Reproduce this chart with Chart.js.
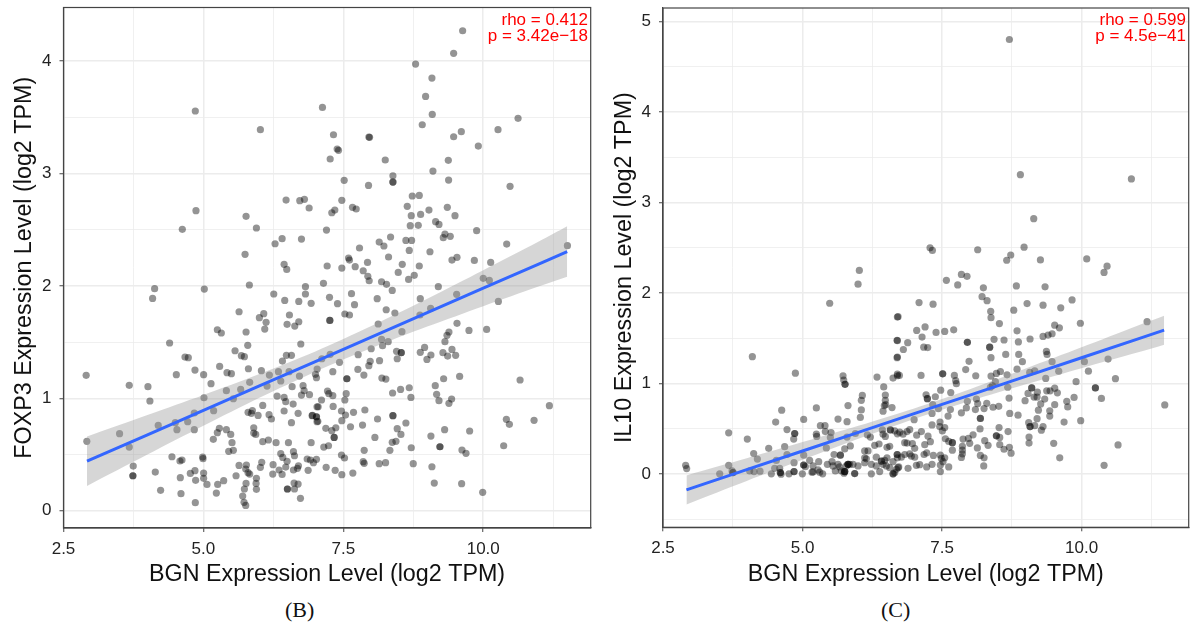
<!DOCTYPE html>
<html>
<head>
<meta charset="utf-8">
<title>BGN correlation</title>
<script src="https://cdn.jsdelivr.net/npm/chart.js@4"></script>
<style>
  html, body { margin: 0; padding: 0; background: #fff; }
  body { position: relative; width: 1195px; height: 626px; overflow: hidden; }
  canvas { position: absolute; top: 0; }
  #graph01 { left: 0; }
  #graph02 { left: 600px; }
  .stat { position: absolute; top: 12px; color: #f00; text-align: right; font: 17px/16.2px "Liberation Sans", sans-serif; }
  .cap { position: absolute; top: 597px; font: 22px "Liberation Serif", serif; color: #111; }
</style>
</head>
<body>
<canvas id="graph01" width="600" height="590"></canvas>
<canvas id="graph02" width="595" height="590"></canvas>
<div class="stat" style="right:607px">rho = 0.412<br>p = 3.42e−18</div>
<div class="stat" style="right:9px">rho = 0.599<br>p = 4.5e−41</div>
<div class="cap" style="left:285px">(B)</div>
<div class="cap" style="left:881px">(C)</div>
<script>
// BGN (x) vs FOXP3 (y)
const foxp3Points = [
  [4.855,3.556],[6.018,3.39],[6.477,2.764],[6.722,2.758],[6.805,2.77],[6.889,2.693],[4.867,2.669],[5.762,2.619],
  [4.623,2.503],[5.947,2.515],[6.406,2.42],[6.752,2.417],[6.28,2.375],[5.744,2.281],[6.442,2.192],[6.489,2.147],
  [5.821,2.008],[6.823,1.993],[4.128,1.975],[5.016,1.972],[4.092,1.889],[6.257,1.928],[6.823,1.928],[6.453,1.871],
  [6.704,1.862],[6.925,1.845],[5.637,1.77],[6.078,1.753],[6.537,1.741],[6.0,1.717],[6.12,1.676],[6.495,1.658],
  [6.704,1.681],[6.632,1.643],[6.096,1.616],[5.249,1.61],[5.32,1.581],[5.762,1.59],[4.396,1.492],[5.792,1.471],
  [6.74,1.483],[5.565,1.423],[5.678,1.379],[5.732,1.37],[4.671,1.367],[4.73,1.361],[6.483,1.382],[6.573,1.382],
  [6.412,1.331],[5.29,1.284],[5.804,1.263],[4.849,1.251],[6.036,1.246],[5.422,1.228],[5.5,1.219],[4.516,1.21],
  [5.004,1.21],[2.905,1.204],[6.179,1.207],[6.34,1.237],[6.531,1.237],[6.716,1.198],[5.827,1.142],[6.382,1.154],
  [5.136,1.13],[6.137,1.109],[3.675,1.115],[4.009,1.103],[6.585,1.103],[6.781,1.112],[5.41,1.068],[5.666,1.079],
  [6.752,1.029],[6.8,1.068],[6.895,1.032],[6.316,1.02],[6.442,1.008],[5.01,1.005],[5.535,0.996],[4.044,0.976],
  [6.471,0.97],[6.06,0.937],[6.603,0.949],[5.183,0.89],[7.03,0.925],[5.875,0.89],[5.798,0.875],[5.857,0.866],
  [4.837,0.869],[5.977,0.848],[6.692,0.866],[6.173,0.854],[6.442,0.887],[6.215,0.816],[6.942,0.845],[7.02,0.836],
  [7.03,0.792],[4.498,0.783],[4.719,0.792],[4.193,0.759],[6.573,0.783],[5.899,0.738],[4.837,0.721],[4.527,0.721],
  [5.285,0.733],[5.41,0.721],[5.249,0.694],[5.488,0.679],[3.502,0.685],[5.899,0.691],[5.935,0.679],[5.177,0.635],
  [6.161,0.629],[2.917,0.617],[6.06,0.614],[6.298,0.605],[6.519,0.605],[5.511,0.605],[6.925,0.605],[3.675,0.566],
  [5.452,0.528],[5.535,0.537],[6.609,0.525],[6.382,0.507],[4.438,0.48],[6.418,0.474],[6.627,0.489],[4.987,0.477],
  [6.854,0.46],[6.912,0.451],[7.02,0.457],[4.581,0.442],[4.617,0.451],[4.993,0.463],[6.495,0.439],[6.966,0.427],
  [6.042,0.43],[6.245,0.409],[3.746,0.397],[5.637,0.403],[5.768,0.406],[6.698,0.4],[6.471,0.388],[6.018,0.386],
  [6.352,0.362],[6.609,0.362],[6.68,0.377],[6.871,0.359],[5.756,0.371],[4.849,0.356],[4.14,0.344],[4.766,0.332],
  [5.004,0.335],[5.798,0.338],[5.827,0.326],[5.583,0.311],[6.239,0.326],[6.406,0.323],[3.74,0.311],[3.74,0.311],
  [4.587,0.294],[5.004,0.288],[5.947,0.288],[5.941,0.243],[4.861,0.27],[5.362,0.267],[5.064,0.234],[5.255,0.234],
  [5.762,0.243],[6.62,0.246],[6.692,0.237],[5.732,0.193],[5.947,0.19],[6.501,0.193],[6.501,0.193],[6.627,0.193],
  [4.235,0.181],[4.599,0.151],[5.231,0.157],[5.702,0.13],[6.734,0.11],[4.855,0.071],[5.726,0.074],[5.756,0.047],
  [9.632,4.27],[9.471,4.069],[8.791,3.974],[9.083,3.849],[8.97,3.686],[9.089,3.526],[7.127,3.588],[10.622,3.491],
  [8.91,3.434],[10.264,3.39],[9.608,3.372],[9.471,3.327],[7.324,3.345],[7.957,3.324],[7.969,3.322],[9.912,3.244],
  [7.39,3.218],[7.414,3.206],[7.265,3.129],[8.249,3.12],[9.376,3.117],[9.101,3.022],[8.386,2.98],[8.386,2.924],
  [8.386,2.924],[7.515,2.939],[9.381,2.942],[7.95,2.894],[10.479,2.886],[8.732,2.8],[8.857,2.805],[7.473,2.761],
  [8.642,2.708],[9.358,2.699],[7.664,2.699],[7.73,2.684],[7.348,2.675],[7.294,2.651],[9.03,2.675],[8.714,2.625],
  [8.881,2.636],[9.495,2.625],[9.149,2.571],[9.209,2.547],[8.696,2.536],[8.839,2.539],[7.199,2.497],[9.882,2.491],
  [9.316,2.461],[9.411,2.441],[9.286,2.429],[8.344,2.435],[8.618,2.405],[8.72,2.405],[8.141,2.39],[8.225,2.355],
  [10.419,2.372],[11.504,2.358],[7.789,2.337],[8.678,2.316],[9.048,2.304],[8.308,2.257],[7.593,2.248],[7.61,2.23],
  [9.531,2.254],[9.441,2.23],[9.841,2.227],[10.133,2.209],[7.932,2.209],[7.211,2.177],[7.473,2.159],[7.712,2.171],
  [8.553,2.192],[8.857,2.177],[7.855,2.135],[8.481,2.12],[8.767,2.094],[7.938,2.085],[7.962,2.046],[8.666,2.058],
  [10.0,2.067],[10.109,2.049],[8.183,2.037],[8.272,2.014],[7.145,2.023],[9.197,1.993],[8.374,1.96],[7.646,1.931],
  [7.253,1.898],[9.525,1.925],[8.875,1.886],[8.105,1.886],[10.27,1.862],[7.396,1.842],[7.7,1.833],[8.266,1.788],
  [9.06,1.8],[8.421,1.759],[7.527,1.75],[7.61,1.741],[8.869,1.741],[7.259,1.693],[7.259,1.693],[8.123,1.661],
  [9.531,1.667],[9.745,1.604],[10.061,1.613],[8.547,1.593],[9.387,1.59],[9.352,1.56],[8.183,1.524],[8.302,1.504],
  [8.201,1.468],[9.316,1.504],[7.998,1.441],[8.952,1.453],[9.441,1.435],[8.451,1.418],[8.535,1.406],[8.535,1.406],
  [8.875,1.409],[9.065,1.385],[9.28,1.406],[9.364,1.376],[9.507,1.382],[7.765,1.388],[7.265,1.391],[8.463,1.352],
  [8.994,1.346],[7.116,1.352],[8.147,1.335],[7.98,1.329],[7.432,1.32],[7.956,1.29],[7.032,1.26],[7.76,1.257],
  [7.312,1.237],[7.867,1.207],[7.002,1.213],[7.02,1.183],[8.189,1.18],[8.26,1.171],[7.563,1.174],[7.563,1.174],
  [9.292,1.174],[9.578,1.195],[10.658,1.163],[9.143,1.112],[8.523,1.079],[8.678,1.094],[8.38,1.047],[7.217,1.065],
  [7.551,1.041],[7.241,1.041],[7.312,1.023],[9.167,1.035],[8.708,1.008],[7.527,0.985],[7.11,0.985],[9.435,0.993],
  [9.209,0.979],[9.387,0.955],[7.05,0.925],[7.318,0.928],[7.467,0.887],[11.182,0.934],[7.885,0.896],[7.682,0.875],
  [7.539,0.851],[6.949,0.848],[7.02,0.836],[8.386,0.845],[8.386,0.845],[8.111,0.816],[7.473,0.801],[7.044,0.795],
  [10.413,0.813],[10.908,0.804],[10.467,0.768],[8.618,0.78],[7.628,0.747],[7.843,0.762],[7.187,0.733],[7.366,0.738],
  [7.294,0.712],[8.463,0.73],[9.31,0.721],[9.757,0.709],[8.529,0.679],[7.336,0.652],[7.336,0.652],[9.065,0.664],
  [8.064,0.652],[8.374,0.608],[8.44,0.617],[7.235,0.578],[7.151,0.566],[9.226,0.569],[9.226,0.569],[8.714,0.56],
  [10.365,0.578],[7.873,0.537],[8.332,0.537],[9.62,0.54],[9.692,0.51],[7.467,0.495],[7.521,0.469],[7.855,0.436],
  [7.873,0.421],[8.141,0.418],[8.255,0.427],[8.749,0.418],[7.193,0.386],[7.354,0.359],[9.083,0.391],[7.67,0.335],
  [7.473,0.32],[9.125,0.246],[9.614,0.24],[9.99,0.163],
];
const foxp3FitX = [2.92, 4, 5, 6, 7, 8, 9, 10, 11, 11.5];
const foxp3Fit = [0.44, 0.675, 0.892, 1.11, 1.327, 1.545, 1.762, 1.98, 2.197, 2.306];
const foxp3Upper = [0.66, 0.851, 1.029, 1.216, 1.417, 1.643, 1.886, 2.14, 2.397, 2.531];
const foxp3Lower = [0.22, 0.499, 0.755, 1.004, 1.237, 1.447, 1.638, 1.82, 1.997, 2.081];

// BGN (x) vs IL10 (y)
const il10Points = [
  [6.018,2.251],[5.995,2.099],[5.487,1.888],[6.7,1.736],[8.707,4.802],[8.904,3.309],[10.893,3.262],[9.143,2.823],
  [8.97,2.508],[7.285,2.501],[7.327,2.472],[8.139,2.479],[8.731,2.421],[8.659,2.363],[9.263,2.367],[10.093,2.378],
  [10.457,2.298],[10.403,2.229],[7.847,2.207],[7.948,2.186],[7.578,2.142],[7.781,2.091],[8.241,2.059],[8.832,2.08],
  [9.346,2.07],[8.217,1.961],[8.307,1.917],[9.83,1.925],[9.024,1.885],[7.088,1.896],[7.339,1.878],[9.31,1.867],
  [9.627,1.838],[8.785,1.812],[8.372,1.798],[8.378,1.729],[6.712,1.74],[8.528,1.664],[9.519,1.646],[9.979,1.667],
  [11.174,1.685],[9.603,1.617],[7.196,1.627],[7.046,1.588],[7.393,1.566],[7.548,1.577],[7.709,1.595],[8.844,1.584],
  [7.142,1.515],[6.7,1.475],[6.885,1.453],[8.432,1.49],[8.611,1.482],[9.077,1.493],[8.868,1.461],[9.31,1.522],
  [9.4,1.537],[9.472,1.551],[7.954,1.457],[7.954,1.457],[6.807,1.377],[7.172,1.403],[7.243,1.399],[8.354,1.403],
  [8.354,1.403],[6.7,1.294],[8.641,1.323],[8.874,1.323],[8.378,1.287],[9.37,1.356],[9.382,1.323],[10.475,1.272],
  [9.472,1.243],[10.051,1.243],[7.984,1.247],[8.94,1.243],[7.924,1.156],[8.844,1.16],[9.591,1.138],[10.123,1.138],
  [8.546,1.134],[8.474,1.113],[8.378,1.084],[7.512,1.109],[7.512,1.109],[7.721,1.091],[8.104,1.087],[8.665,1.098],
  [9.071,1.124],[9.161,1.142],[7.124,1.091],[6.736,1.091],[6.7,1.105],[9.358,1.058],[10.607,1.055],[7.745,1.033],
  [7.757,1.0],[9.902,1.022],[8.456,1.022],[8.366,0.96],[8.402,0.979],[8.677,0.96],[10.248,0.953],[10.248,0.953],
  [9.107,0.953],[9.107,0.953],[9.376,0.921],[9.436,0.921],[9.519,0.95],[9.567,0.899],[7.476,0.928],[7.656,0.902],
  [9.041,0.892],[9.209,0.906],[9.149,0.852],[9.203,0.852],[7.214,0.877],[7.38,0.855],[7.237,0.834],[7.237,0.834],
  [8.701,0.841],[8.116,0.83],[10.356,0.837],[9.866,0.848],[8.988,0.812],[9.34,0.83],[9.735,0.805],[7.954,0.805],
  [8.139,0.779],[8.301,0.783],[9.268,0.776],[9.519,0.768],[9.752,0.743],[11.491,0.765],[7.333,0.768],[7.435,0.725],
  [7.65,0.714],[7.936,0.732],[8.098,0.714],[8.253,0.725],[8.414,0.739],[8.516,0.75],[9.227,0.707],[9.43,0.7],
  [7.847,0.678],[7.321,0.671],[7.608,0.642],[8.713,0.671],[8.862,0.652],[9.43,0.642],[8.187,0.616],[8.187,0.616],
  [9.203,0.613],[7.0,0.602],[9.985,0.591],[9.687,0.576],[9.053,0.569],[7.464,0.576],[7.321,0.544],[7.458,0.526],
  [9.161,0.536],[9.077,0.526],[9.077,0.526],[9.31,0.526],[7.548,0.515],[9.28,0.486],[8.522,0.515],[8.181,0.5],
  [6.921,0.493],[6.873,0.471],[7.13,0.471],[6.742,0.464],[6.801,0.442],[8.683,0.471],[7.506,0.478],[7.046,0.431],
  [7.249,0.42],[8.056,0.435],[8.474,0.424],[8.474,0.424],[8.534,0.406],[7.56,0.391],[7.877,0.388],[7.972,0.395],
  [9.059,0.41],[7.291,0.359],[8.265,0.37],[6.831,0.348],[6.873,0.344],[7.62,0.362],[7.685,0.348],[7.685,0.348],
  [7.996,0.341],[9.059,0.344],[9.501,0.341],[10.654,0.323],[6.969,0.337],[7.19,0.326],[8.534,0.326],[8.325,0.319],
  [7.865,0.308],[8.133,0.29],[8.707,0.297],[7.01,0.286],[8.611,0.275],[7.685,0.265],[7.865,0.265],[7.225,0.236],
  [7.178,0.217],[8.737,0.232],[7.847,0.185],[7.865,0.225],[6.831,0.217],[6.921,0.225],[6.7,0.217],[7.345,0.207],
  [7.47,0.21],[7.01,0.188],[6.771,0.188],[6.951,0.199],[6.7,0.181],[8.187,0.207],[8.253,0.181],[9.609,0.181],
  [7.548,0.181],[7.488,0.174],[7.518,0.138],[7.321,0.109],[7.225,0.08],[7.04,0.098],[7.1,0.105],[6.891,0.065],
  [6.724,0.08],[7.62,0.08],[7.47,0.029],[8.247,0.091],[10.404,0.098],[7.47,0.101],[6.652,0.018],
  [6.694,1.479],[6.694,1.287],[4.101,1.298],[4.872,1.116],[5.726,1.087],[5.738,1.04],[5.762,0.993],[5.762,0.993],
  [6.335,1.073],[6.622,1.062],[6.7,1.087],[6.455,0.964],[6.072,0.87],[6.484,0.874],[6.054,0.816],[6.484,0.816],
  [6.49,0.768],[6.466,0.758],[4.627,0.707],[5.815,0.758],[6.054,0.71],[6.604,0.736],[5.248,0.732],[6.443,0.696],
  [6.036,0.627],[5.021,0.605],[4.519,0.576],[5.636,0.609],[5.798,0.58],[5.32,0.536],[5.403,0.536],[4.722,0.493],
  [5.409,0.471],[3.677,0.457],[5.511,0.46],[4.86,0.449],[4.86,0.449],[5.248,0.442],[5.254,0.417],[4.842,0.388],
  [4.011,0.388],[5.499,0.406],[5.947,0.449],[5.798,0.41],[6.162,0.435],[6.216,0.41],[6.431,0.489],[6.574,0.489],
  [6.574,0.489],[6.652,0.478],[6.443,0.442],[6.484,0.417],[6.7,0.446],[6.293,0.319],[6.371,0.333],[6.562,0.308],
  [6.514,0.297],[4.394,0.286],[4.68,0.304],[5.857,0.312],[5.756,0.279],[5.427,0.29],[4.125,0.228],[6.114,0.257],
  [6.174,0.257],[5.565,0.217],[5.678,0.21],[5.678,0.21],[4.722,0.217],[5.021,0.21],[5.128,0.152],[4.191,0.167],
  [4.531,0.152],[6.114,0.181],[6.144,0.17],[6.323,0.188],[6.413,0.145],[6.413,0.145],[6.473,0.152],[6.514,0.181],
  [6.694,0.217],[4.848,0.127],[5.29,0.138],[5.445,0.109],[5.529,0.138],[5.636,0.109],[2.906,0.098],[2.924,0.062],
  [3.677,0.098],[4.501,0.065],[4.591,0.065],[5.021,0.101],[5.021,0.101],[5.051,0.083],[5.815,0.109],[5.815,0.109],
  [5.815,0.109],[5.785,0.091],[5.845,0.109],[5.905,0.109],[5.995,0.091],[6.114,0.127],[6.233,0.109],[6.323,0.091],
  [6.622,0.138],[5.188,0.091],[5.278,0.047],[5.188,0.025],[5.547,0.091],[5.666,0.08],[4.053,0.036],[4.131,0.029],
  [4.238,0.033],[3.755,0.018],[3.755,0.018],[3.737,0.036],[3.516,0.004],[4.441,0.004],[4.603,0.018],[4.603,0.018],
  [4.615,0],[4.758,0.004],[4.848,0.029],[4.848,0.029],[4.997,0.004],[5.17,0.022],[5.308,0.022],[5.361,0.004],
  [5.588,0.036],[5.696,0.036],[5.756,0.029],[5.756,0.029],[5.756,0.029],[5.744,0.011],[5.935,0.007],[5.935,0.007],
  [6.233,0.004],[6.383,0.029],[6.622,0.004],[6.622,0.004],[6.682,0.054],[6.712,0.072],[6.562,0.072],[6.502,0.091],
  [6.443,0.109],
];
const il10FitX = [2.92, 4, 5, 6, 7, 8, 9, 10, 11, 11.48];
const il10Fit = [-0.174, 0.05, 0.256, 0.462, 0.668, 0.874, 1.08, 1.286, 1.492, 1.591];
const il10Upper = [-0.014, 0.175, 0.354, 0.534, 0.726, 0.939, 1.167, 1.401, 1.64, 1.751];
const il10Lower = [-0.334, -0.075, 0.158, 0.39, 0.61, 0.809, 0.993, 1.171, 1.344, 1.431];

const xTitle = "BGN Expression Level (log2 TPM)";
const fontName = '"Liberation Sans", sans-serif';
const axisColor = "#444";
const gridColor = "#ececec";

const frame = {
  id: "frame",
  afterDatasetsDraw(chart) {
    const a = chart.chartArea;
    chart.ctx.save();
    chart.ctx.strokeStyle = axisColor;
    chart.ctx.lineWidth = 1.2;
    chart.ctx.strokeRect(a.left, a.top, a.right - a.left, a.bottom - a.top);
    chart.ctx.restore();
  },
};

function toXY(xs, ys) {
  return xs.map((x, i) => ({ x: x, y: ys[i] }));
}

function axisGrid(isMajor) {
  return {
    color: gridColor,
    lineWidth: (c) => (isMajor(c.tick.value) ? 1.5 : 0.8),
    tickColor: (c) => (isMajor(c.tick.value) ? axisColor : "rgba(0,0,0,0)"),
    tickLength: 4,
    tickWidth: 1,
  };
}

function drawPanel(id, o) {
  const isMajorX = (v) => v % 2.5 === 0;
  const isMajorY = (v) => Number.isInteger(v);
  return new Chart(document.getElementById(id), {
    type: "scatter",
    data: {
      datasets: [
        {
          type: "line",
          data: toXY(o.fitX, o.fit),
          borderColor: "#3366ff",
          borderWidth: 3,
          pointRadius: 0,
        },
        {
          type: "line",
          data: toXY(o.fitX, o.upper),
          borderWidth: 0,
          pointRadius: 0,
          tension: 0.3,
        },
        {
          type: "line",
          data: toXY(o.fitX, o.lower),
          borderWidth: 0,
          pointRadius: 0,
          tension: 0.3,
          fill: "-1",
          backgroundColor: "rgba(153, 153, 153, 0.4)",
        },
        {
          data: o.points.map((p) => ({ x: p[0], y: p[1] })),
          backgroundColor: "rgba(0, 0, 0, 0.42)",
          borderWidth: 0,
          pointRadius: 3.6,
        },
      ],
    },
    options: {
      responsive: false,
      animation: false,
      layout: { padding: { top: o.top, right: o.right } },
      plugins: { legend: { display: false }, tooltip: { enabled: false } },
      scales: {
        x: {
          type: "linear",
          min: 2.5,
          max: 11.92,
          afterFit: (s) => {
            s.height = 590 - o.bottom;
            s.paddingLeft = 0;
            s.paddingRight = 0;
          },
          border: { color: axisColor, width: 1.2 },
          grid: axisGrid(isMajorX),
          ticks: {
            stepSize: 1.25,
            includeBounds: false,
            autoSkip: false,
            maxRotation: 0,
            padding: 7,
            color: "#222",
            font: { family: fontName, size: 17 },
            callback: (v) => (isMajorX(v) ? v.toFixed(1) : ""),
          },
          title: {
            display: true,
            text: xTitle,
            color: "#111",
            font: { family: fontName, size: 23.3 },
            padding: { top: 0, bottom: 1 },
          },
        },
        y: {
          type: "linear",
          min: o.yMin,
          max: o.yMax,
          afterFit: (s) => {
            s.width = o.left;
            s.paddingTop = 0;
            s.paddingBottom = 0;
          },
          border: { color: axisColor, width: 1.2 },
          grid: axisGrid(isMajorY),
          ticks: {
            stepSize: 0.5,
            includeBounds: false,
            autoSkip: false,
            maxTicksLimit: 20,
            padding: 8,
            color: "#222",
            font: { family: fontName, size: 17 },
            callback: (v) => (isMajorY(v) ? String(v) : ""),
          },
          title: {
            display: true,
            text: o.yTitle,
            color: "#111",
            font: { family: fontName, size: 23.3 },
            padding: { top: 11, bottom: 0 },
          },
        },
      },
    },
    plugins: [frame],
  });
}

drawPanel("graph01", {
  points: foxp3Points, fitX: foxp3FitX, fit: foxp3Fit, upper: foxp3Upper, lower: foxp3Lower,
  yTitle: "FOXP3 Expression Level (log2 TPM)",
  yMin: -0.154, yMax: 4.477, left: 63.5, top: 7.5, right: 9.3, bottom: 528,
});
drawPanel("graph02", {
  points: il10Points, fitX: il10FitX, fit: il10Fit, upper: il10Upper, lower: il10Lower,
  yTitle: "IL10 Expression Level (log2 TPM)",
  yMin: -0.587, yMax: 5.15, left: 63, top: 8, right: 6.3, bottom: 527.3,
});
</script>
</body>
</html>
